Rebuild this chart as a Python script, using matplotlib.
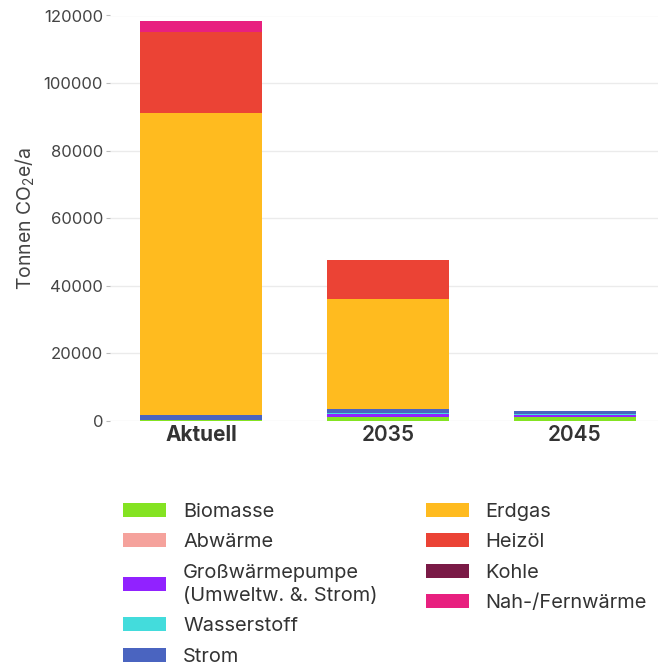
import matplotlib
matplotlib.use("Agg")
import matplotlib.pyplot as plt
import numpy as np

plt.rcParams['font.family'] = ['Inter', 'DejaVu Sans']
plt.rcParams['mathtext.default'] = 'regular'

# data
jahre = ['Aktuell', '2035', '2045']
traeger = ['Biomasse', 'Abwärme', 'Großwärmepumpe\n(Umweltw. &. Strom)', 'Wasserstoff',
           'Strom', 'Erdgas', 'Heizöl', 'Kohle', 'Nah-/Fernwärme']
farben = ['#84e322', '#f5a29c', '#9122ff', '#43dcdc', '#4a64c0',
          '#ffbb1f', '#eb4335', '#7a1a46', '#e8207f']
biomasse = [300, 1200, 1300]
abwaerme = [0, 0, 0]
grosswp = [0, 800, 600]
wasserstoff = [0, 400, 300]
strom = [1400, 1100, 800]
erdgas = [89540, 32650, 0]
heizoel = [23880, 11450, 0]
kohle = [0, 0, 0]
fernwaerme = [3170, 0, 0]

werte = [biomasse, abwaerme, grosswp, wasserstoff, strom, erdgas, heizoel, kohle, fernwaerme]

fig = plt.figure(figsize=(6.67, 6.64), dpi=100)
ax = fig.add_axes([110 / 667, 243 / 664, 548 / 667, 405.5 / 664])

x = np.arange(len(jahre))
unten = np.zeros(len(jahre))
for name, vals, col in zip(traeger, werte, farben):
    ax.bar(x, vals, bottom=unten, width=0.652, color=col, label=name, zorder=3)
    unten += np.array(vals)

ax.set_xlim(-0.487, 2.444)
ax.set_ylim(0, 120000)
ax.set_yticks(np.arange(0, 120001, 20000))
ax.grid(axis='y', color='#ebebeb', linewidth=1, zorder=0)
for s in ax.spines.values():
    s.set_visible(False)

ax.tick_params(axis='y', length=3, width=0.8, color='#bbbbbb', pad=2,
               labelsize=12, labelcolor='#444444')
ax.tick_params(axis='x', length=0, pad=3, labelsize=15, labelcolor='#333333')
ax.set_xticks(x)
ax.set_xticklabels(jahre)
for lab, w in zip(ax.get_xticklabels(), ['bold', 'semibold', 'semibold']):
    lab.set_fontweight(w)

ax.set_ylabel('Tonnen CO$_2$e/a', fontsize=14, color='#444444', labelpad=5)

handles, labels = ax.get_legend_handles_labels()
leg = fig.legend(handles, labels, ncol=2, loc='upper left', bbox_to_anchor=(123 / 667, 1 - 503 / 664),
                 frameon=False, fontsize=14.4, labelcolor='#333333',
                 borderpad=0, borderaxespad=0,
                 handlelength=2.15, handleheight=0.7, handletextpad=0.85,
                 columnspacing=2.4, labelspacing=0.62)
for t in leg.get_texts():
    t.set_linespacing(1.35)

fig.savefig('out.png', dpi=100, facecolor='white')
